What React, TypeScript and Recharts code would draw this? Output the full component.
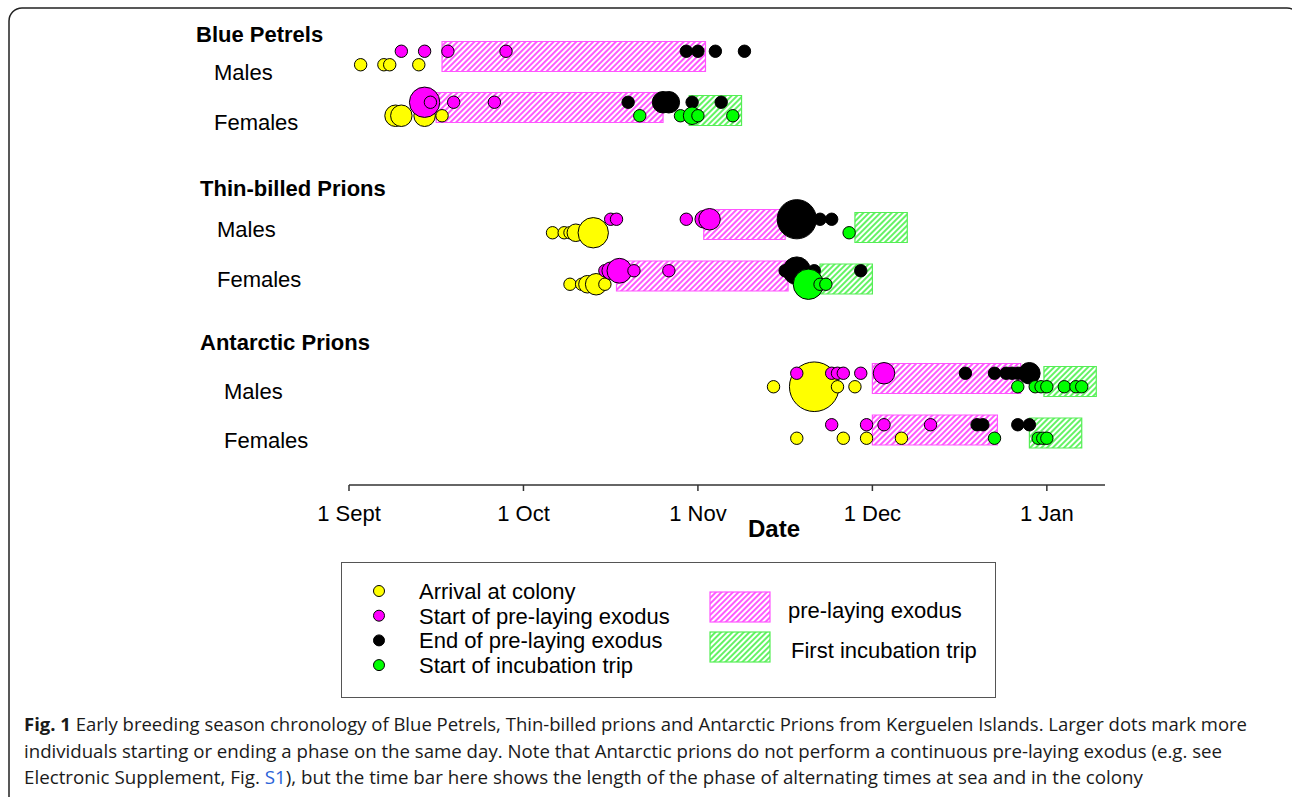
import React from "react";
import { ComposedChart, Scatter, XAxis, YAxis, ReferenceArea } from "recharts";

const FONT = '"Liberation Sans", Arial, sans-serif';

// x = days after 1 Sept, with every month drawn 30 days wide like the original axis
const monthTicks = [0, 30, 60, 90, 120];
const monthLabels = ["1 Sept", "1 Oct", "1 Nov", "1 Dec", "1 Jan"];

const groupNames = ["Blue Petrels", "Thin-billed Prions", "Antarctic Prions"];
const sexNames = ["Males", "Females"];

// [row, day, number of birds]
// rows: 0 BP males, 1 BP females, 2 TBP males, 3 TBP females, 4 AP males, 5 AP females
const arrival = [
  [0, 2, 1], [0, 6, 1], [0, 7, 1], [0, 12, 1],
  [1, 8, 3], [1, 9, 3], [1, 13, 3], [1, 16, 1],
  [2, 35, 1], [2, 37, 1], [2, 38, 1], [2, 39, 2], [2, 42, 6],
  [3, 38, 1], [3, 40, 1], [3, 41, 2], [3, 42.5, 3], [3, 44, 1],
  [4, 73, 1], [4, 80, 16], [4, 84, 1], [4, 87, 1],
  [5, 77, 1], [5, 85, 1], [5, 89, 1], [5, 95, 1],
];

const exodusStart = [
  [0, 9, 1], [0, 13, 1], [0, 17, 1], [0, 27, 1],
  [1, 13, 6], [1, 14, 1], [1, 18, 1], [1, 25, 1],
  [2, 45, 1], [2, 46, 1], [2, 58, 1], [2, 61, 2], [2, 62, 3],
  [3, 44, 1], [3, 45, 2], [3, 46.5, 4], [3, 49, 1], [3, 55, 1],
  [4, 77, 1], [4, 83, 1], [4, 84, 1], [4, 85, 1], [4, 88, 1], [4, 92, 3],
  [5, 83, 1], [5, 89, 1], [5, 92, 1], [5, 100, 1],
];

const exodusEnd = [
  [0, 58, 1], [0, 60, 1], [0, 63, 1], [0, 68, 1],
  [1, 48, 1], [1, 54, 3], [1, 55, 3], [1, 59, 1], [1, 64, 1],
  [2, 77, 10], [2, 81, 1], [2, 83, 1],
  [3, 75, 1], [3, 77, 5], [3, 80, 1], [3, 88, 1],
  [4, 106, 1], [4, 111, 1], [4, 113, 1], [4, 114, 1], [4, 115, 1], [4, 116, 1], [4, 117, 3],
  [5, 108, 1], [5, 109, 1], [5, 115, 1], [5, 117, 1],
];

const incubationStart = [
  [1, 50, 1], [1, 57, 1], [1, 59, 2], [1, 60, 1], [1, 66, 1],
  [2, 86, 1],
  [3, 79, 6], [3, 81, 1], [3, 82, 1],
  [4, 115, 1], [4, 118, 1], [4, 119, 1], [4, 120, 1], [4, 123, 1], [4, 125, 1], [4, 126, 1],
  [5, 111, 1], [5, 118.5, 1], [5, 119.3, 1], [5, 120, 1],
];

// [row, first day, last day]
const exodusBars = [
  [0, 16, 61.3], [1, 15, 54], [2, 61, 75], [3, 46, 75.5], [4, 90, 115.5], [5, 90, 111.5],
];
const incubationBars = [
  [1, 58.5, 67.5], [2, 87, 96], [3, 81, 90], [4, 119.5, 128.5], [5, 117, 126],
];

// layout (y axis runs 0..9.3 top to bottom)
const rowPos = [0.76, 1.78, 4.12, 5.15, 7.2, 8.23];
const DOT_SHIFT = 0.135;
const BAR_HALF = 0.3;

const leftLabels = [
  { at: 0.284, text: groupNames[0], bold: true, x: 196 },
  { at: 1.05, text: sexNames[0], x: 214 },
  { at: 2.05, text: sexNames[1], x: 214 },
  { at: 3.37, text: groupNames[1], bold: true, x: 200 },
  { at: 4.184, text: sexNames[0], x: 217 },
  { at: 5.184, text: sexNames[1], x: 217 },
  { at: 6.45, text: groupNames[2], bold: true, x: 200 },
  { at: 7.416, text: sexNames[0], x: 224 },
  { at: 8.396, text: sexNames[1], x: 224 },
];

const toPoints = (list: number[][], shift: number) =>
  list.map(([row, day, n]) => ({ x: day, y: rowPos[row] + shift, n }));

const dot = (fill: string) => (props: any) =>
  (
    <circle
      cx={props.cx}
      cy={props.cy}
      r={6.2 * Math.sqrt(props.payload.n)}
      fill={fill}
      stroke="#000"
      strokeWidth={1}
    />
  );

const LeftLabel = (props: any) => {
  const lab = leftLabels.find((l) => Math.abs(l.at - props.payload.value) < 1e-6);
  if (!lab) return null;
  return (
    <text
      x={lab.x}
      y={props.y + 7.9}
      fontFamily={FONT}
      fontSize={22}
      fontWeight={lab.bold ? "bold" : "normal"}
      fill="#000"
    >
      {lab.text}
    </text>
  );
};

const legendDots = [
  { color: "#ffff00", text: "Arrival at colony" },
  { color: "#ff00ff", text: "Start of pre-laying exodus" },
  { color: "#000000", text: "End of pre-laying exodus" },
  { color: "#00ff00", text: "Start of incubation trip" },
];

export default function App() {
  return (
    <div style={{ position: "absolute", left: 0, top: 0, width: 1292, height: 797, background: "#fff" }}>
      <svg width={1292} height={797} style={{ position: "absolute", left: 0, top: 0 }}>
        <defs>
          <pattern id="pinkHatch" patternUnits="userSpaceOnUse" width="4" height="4" patternTransform="rotate(45)">
            <rect width="4" height="4" fill="#fff" />
            <line x1="1" y1="0" x2="1" y2="4" stroke="#ff11ff" strokeWidth="1.4" />
          </pattern>
          <pattern id="greenHatch" patternUnits="userSpaceOnUse" width="4" height="4" patternTransform="rotate(45)">
            <rect width="4" height="4" fill="#fff" />
            <line x1="1" y1="0" x2="1" y2="4" stroke="#22ee22" strokeWidth="1.4" />
          </pattern>
        </defs>
        <rect x={9} y={8} width={1291} height={830} rx={13} fill="none" stroke="#222" strokeWidth={1.5} />

        {/* legend */}
        <rect x={341.5} y={562.5} width={654} height={135} fill="none" stroke="#555" strokeWidth={1} />
        {legendDots.map((d, i) => (
          <g key={d.text}>
            <circle cx={379} cy={591 + i * 24.7} r={5.5} fill={d.color} stroke="#000" strokeWidth={1} />
            <text x={419} y={599 + i * 24.7} fontFamily={FONT} fontSize={22} fill="#000">
              {d.text}
            </text>
          </g>
        ))}
        <rect x={710} y={592} width={60} height={30} fill="url(#pinkHatch)" stroke="#ff55ff" strokeWidth={1.2} />
        <rect x={710} y={632} width={60} height={30} fill="url(#greenHatch)" stroke="#55ee55" strokeWidth={1.2} />
        <text x={788} y={618} fontFamily={FONT} fontSize={22} fill="#000">pre-laying exodus</text>
        <text x={791} y={658} fontFamily={FONT} fontSize={22} fill="#000">First incubation trip</text>

        {/* caption */}
        <g fontFamily='"Open Sans", sans-serif' fontSize={18.5} fill="#1a1a1a">
          <text x={24} y={731} textLength={1223} lengthAdjust="spacingAndGlyphs">
            <tspan fontWeight="bold">Fig. 1</tspan> Early breeding season chronology of Blue Petrels, Thin-billed prions and Antarctic Prions from Kerguelen Islands. Larger dots mark more
          </text>
          <text x={24} y={757.5} textLength={1198} lengthAdjust="spacingAndGlyphs">
            individuals starting or ending a phase on the same day. Note that Antarctic prions do not perform a continuous pre-laying exodus (e.g. see
          </text>
          <text x={24} y={784} textLength={1119} lengthAdjust="spacingAndGlyphs">
            Electronic Supplement, Fig. <tspan fill="#2a62d8">S1</tspan>), but the time bar here shows the length of the phase of alternating times at sea and in the colony
          </text>
        </g>
      </svg>

      <div style={{ position: "absolute", left: 0, top: 0 }}>
        <ComposedChart width={1200} height={560} margin={{ top: 20, right: 95, bottom: 35, left: 0 }}>
          <XAxis
            type="number"
            dataKey="x"
            domain={[0, 130]}
            ticks={monthTicks}
            interval={0}
            tickFormatter={(v: number) => monthLabels[monthTicks.indexOf(v)]}
            tickSize={6}
            tickMargin={14}
            height={40}
            axisLine={{ stroke: "#333", strokeWidth: 1.5 }}
            tickLine={{ stroke: "#333", strokeWidth: 1.5 }}
            tick={{ fill: "#000", fontSize: 22, fontFamily: FONT }}
            label={{
              content: (p: any) => (
                <text
                  x={p.viewBox.x + p.viewBox.width / 2 + 47}
                  y={537}
                  textAnchor="middle"
                  fontFamily={FONT}
                  fontSize={24}
                  fontWeight="bold"
                  fill="#000"
                >
                  Date
                </text>
              ),
            }}
          />
          <YAxis
            type="number"
            dataKey="y"
            domain={[0, 9.3]}
            reversed
            width={349}
            ticks={leftLabels.map((l) => l.at)}
            interval={0}
            axisLine={false}
            tickLine={false}
            tick={(p: any) => <LeftLabel {...p} />}
          />
          {exodusBars.map(([row, a, b]) => (
            <ReferenceArea
              key={"e" + row}
              x1={a}
              x2={b}
              y1={rowPos[row] - 0.03 - BAR_HALF}
              y2={rowPos[row] - 0.03 + BAR_HALF}
              fill="url(#pinkHatch)"
              fillOpacity={1}
              stroke="#ff55ff"
              strokeWidth={1.2}
              ifOverflow="visible"
            />
          ))}
          {incubationBars.map(([row, a, b]) => (
            <ReferenceArea
              key={"i" + row}
              x1={a}
              x2={b}
              y1={rowPos[row] + 0.03 - BAR_HALF}
              y2={rowPos[row] + 0.03 + BAR_HALF}
              fill="url(#greenHatch)"
              fillOpacity={1}
              stroke="#55ee55"
              strokeWidth={1.2}
              ifOverflow="visible"
            />
          ))}
          <Scatter data={toPoints(arrival, DOT_SHIFT)} shape={dot("#ffff00")} isAnimationActive={false} />
          <Scatter data={toPoints(exodusStart, -DOT_SHIFT)} shape={dot("#ff00ff")} isAnimationActive={false} />
          <Scatter data={toPoints(exodusEnd, -DOT_SHIFT)} shape={dot("#000000")} isAnimationActive={false} />
          <Scatter data={toPoints(incubationStart, DOT_SHIFT)} shape={dot("#00ff00")} isAnimationActive={false} />
        </ComposedChart>
      </div>
    </div>
  );
}
